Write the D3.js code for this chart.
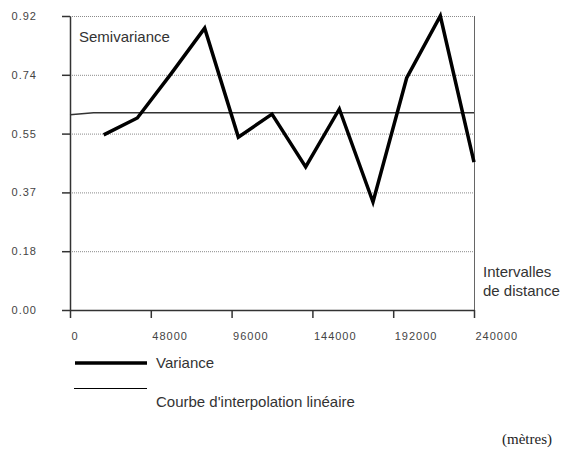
<!DOCTYPE html>
<html>
<head>
<meta charset="utf-8">
<script src="https://cdn.jsdelivr.net/npm/d3@7/dist/d3.min.js"></script>
<style>
  html, body { margin: 0; padding: 0; background: #fff; }
  svg { display: block; }
  .tick text { font-family: "Liberation Sans", Arial, sans-serif; font-size: 11px; letter-spacing: 1px; fill: #444; }
  .lbl { font-family: "Liberation Sans", Arial, sans-serif; font-size: 15px; fill: #333; }
</style>
</head>
<body>
<script>
// ---- data ----
const lags = [20000, 40000, 60000, 80000, 100000, 120000, 140000, 160000, 180000, 200000, 220000, 240000];
const variance = [0.548, 0.601, 0.739, 0.882, 0.541, 0.613, 0.448, 0.629, 0.338, 0.726, 0.920, 0.463];
const interpX = [0, 14000, 240000];
const interpY = [0.611, 0.617, 0.617];
const yTickValues = [0, 0.184, 0.368, 0.552, 0.736, 0.92];
const yTickLabels = ["0.00", "0.18", "0.37", "0.55", "0.74", "0.92"];
const xTickValues = [0, 48000, 96000, 144000, 192000, 240000];
const xTickLabels = ["0", "48000", "96000", "144000", "192000", "240000"];

const W = 566, H = 458;
const svg = d3.select("body").append("svg").attr("width", W).attr("height", H);

const x = d3.scaleLinear().domain([0, 240000]).range([70, 474]);
const y = d3.scaleLinear().domain([0, 0.92]).range([310, 16]);

// gridlines
svg.append("g").selectAll("line").data(yTickValues.filter(v => v > 0)).join("line")
  .attr("x1", x(0)).attr("x2", x(240000))
  .attr("y1", d => y(d) + 0.5).attr("y2", d => y(d) + 0.5)
  .attr("stroke", "#8a8a8a").attr("stroke-width", 1).attr("stroke-dasharray", "1,1");

// right border
svg.append("line")
  .attr("x1", x(240000) + 0.5).attr("x2", x(240000) + 0.5)
  .attr("y1", y(0.92)).attr("y2", y(0))
  .attr("stroke", "#666").attr("stroke-width", 1);

// axes
const yAxis = d3.axisLeft(y).tickValues(yTickValues)
  .tickFormat((d, i) => yTickLabels[i]).tickSize(8).tickSizeOuter(0).tickPadding(25);
const gy = svg.append("g").attr("transform", `translate(${x(0)},0)`).call(yAxis);
gy.selectAll("path, line").attr("stroke", "#333").attr("stroke-width", 1.5);

const xAxis = d3.axisBottom(x).tickValues(xTickValues)
  .tickFormat((d, i) => xTickLabels[i]).tickSize(8).tickSizeOuter(0).tickPadding(14);
const gx = svg.append("g").attr("transform", `translate(0,${y(0)})`).call(xAxis);
gx.selectAll("path, line").attr("stroke", "#333").attr("stroke-width", 1.5);
gx.selectAll(".tick text").attr("text-anchor", "start").attr("dx", 1);

// interpolation line
const interp = interpX.map((d, i) => [d, interpY[i]]);
svg.append("path").datum(interp)
  .attr("d", d3.line().x(d => x(d[0])).y(d => y(d[1])))
  .attr("fill", "none").attr("stroke", "#333").attr("stroke-width", 1.5);

// variance line
const vdata = lags.map((d, i) => [d, variance[i]]);
svg.append("path").datum(vdata)
  .attr("d", d3.line().x(d => x(d[0])).y(d => y(d[1])))
  .attr("fill", "none").attr("stroke", "#000").attr("stroke-width", 3.5)
  .attr("stroke-linejoin", "miter");

// labels
svg.append("text").attr("class", "lbl").attr("x", 79).attr("y", 42).text("Semivariance");
svg.append("text").attr("class", "lbl").attr("x", 483).attr("y", 277).text("Intervalles");
svg.append("text").attr("class", "lbl").attr("x", 483).attr("y", 296).text("de distance");

// legend
svg.append("line").attr("x1", 75).attr("x2", 147).attr("y1", 363).attr("y2", 363)
  .attr("stroke", "#000").attr("stroke-width", 3.5);
svg.append("text").attr("class", "lbl").attr("x", 156).attr("y", 368).text("Variance");
svg.append("line").attr("x1", 74).attr("x2", 147).attr("y1", 388.5).attr("y2", 388.5)
  .attr("stroke", "#000").attr("stroke-width", 1.2);
svg.append("text").attr("class", "lbl").attr("x", 156).attr("y", 407).text("Courbe d'interpolation linéaire");

svg.append("text").attr("x", 502).attr("y", 444)
  .attr("font-family", "'Liberation Serif', 'Times New Roman', serif").attr("font-size", 15)
  .attr("fill", "#222").text("(mètres)");
</script>
</body>
</html>
